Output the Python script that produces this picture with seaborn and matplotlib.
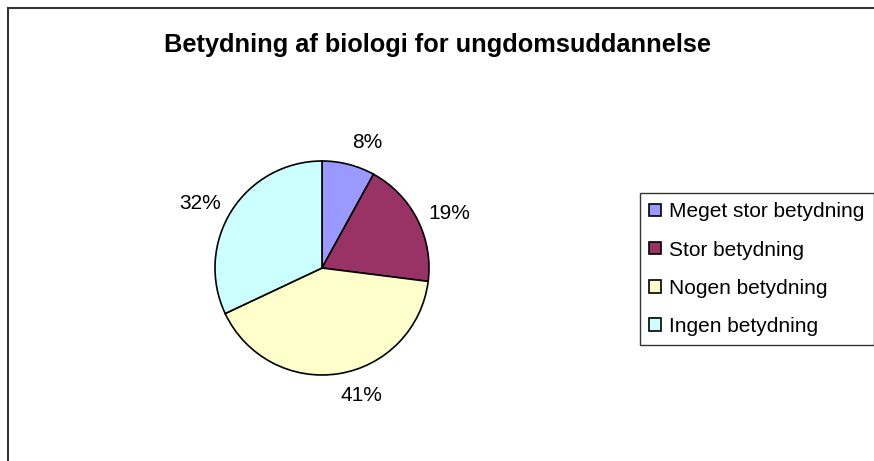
import matplotlib
matplotlib.use("Agg")
import matplotlib.pyplot as plt
import seaborn as sns
import numpy as np
from matplotlib.patches import Rectangle

# data
categories = ["Meget stor betydning", "Stor betydning", "Nogen betydning", "Ingen betydning"]
shares = [8, 19, 41, 32]
colors = ["#9999FF", "#993366", "#FFFFCC", "#CCFFFF"]
title = "Betydning af biologi for ungdomsuddannelse"

sns.set_style("white")
plt.rcParams["font.family"] = ["Liberation Sans", "DejaVu Sans"]
plt.rcParams["text.color"] = "black"

W, H = 874, 461
fig = plt.figure(figsize=(W / 100, H / 100), dpi=100)

# chart frame (only left and top edges visible in the crop)
fig.patches.append(Rectangle((8 / W, -0.2), 2.0, (H - 8) / H + 0.2,
                             transform=fig.transFigure, fill=False,
                             edgecolor="#333333", linewidth=1.5))

# pie axes: centre (322, 268), radius 107 px
cx, cy, r = 322, 268, 107
ax = fig.add_axes([(cx - r) / W, (H - cy - r) / H, 2 * r / W, 2 * r / H])
wedges, _ = ax.pie(
    shares, colors=colors, startangle=90, counterclock=False, radius=1,
    wedgeprops=dict(edgecolor="black", linewidth=1.2))
ax.set_xlim(-1, 1)
ax.set_ylim(-1, 1)
ax.set_aspect("equal")
ax.axis("off")

# percentage labels outside the pie, anchored Excel-style by their near edge
for w, val in zip(wedges, shares):
    mid = np.deg2rad((w.theta1 + w.theta2) / 2)
    c, s = np.cos(mid), np.sin(mid)
    ha = "left" if c >= 0 else "right"
    va = "bottom" if s > 0.7 else ("top" if s < -0.7 else "center")
    ax.text(1.12 * c, 1.12 * s, f"{val}%", ha=ha, va=va, fontsize=15,
            color="black")

fig.text(437 / W, 1 - 45 / H, title, ha="center", va="center",
         fontsize=18.3, fontweight="bold", color="black")

leg = fig.legend(wedges, categories, loc="upper left",
                 bbox_to_anchor=(640 / W, 1 - 193 / H),
                 fontsize=15, frameon=True, fancybox=False,
                 edgecolor="black", handlelength=0.55, handleheight=0.55,
                 handletextpad=0.4, labelspacing=0.92, borderpad=0.45,
                 borderaxespad=0)
leg.get_frame().set_linewidth(1.0)
for h in leg.legend_handles:
    h.set_edgecolor("black")
    h.set_linewidth(1.2)

fig.savefig("out.png", dpi=100)
